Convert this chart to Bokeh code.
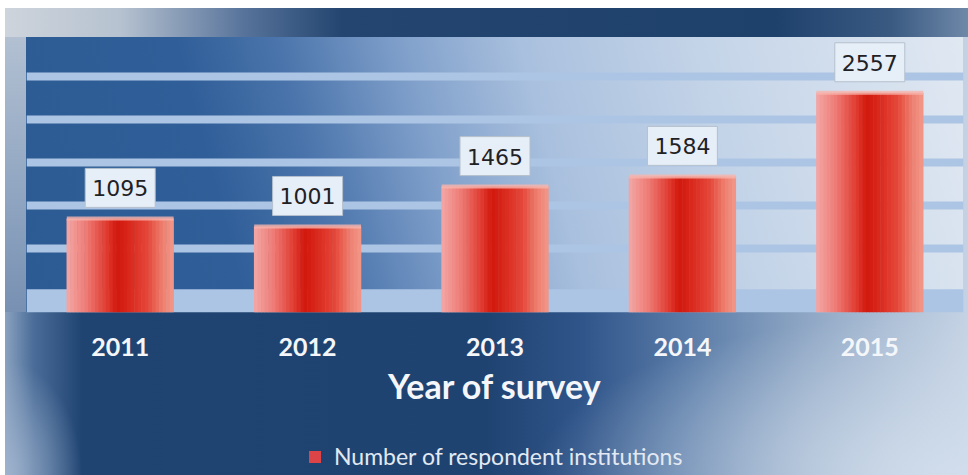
import numpy as np
from bokeh.plotting import figure
from bokeh.layouts import column
from bokeh.models import (Range1d, FactorRange, ColumnDataSource, Grid, FixedTicker,
                          BoxAnnotation, Legend, LegendItem)
from bokeh.transform import dodge
from bokeh.core.properties import value
from bokeh.embed import file_html
from bokeh.resources import INLINE

# ---------------- data ----------------
years = ["2011", "2012", "2013", "2014", "2015"]
counts = [1095, 1001, 1465, 1584, 2557]
value_labels = [str(c) for c in counts]
series_name = "Number of respondent institutions"
x_title = "Year of survey"
grid_values = [750, 1250, 1750, 2250, 2750]
floor_top = 270
y_max = 3200

# ---------------- main figure ----------------
W = 968
p = figure(width=W, height=437,
           x_range=FactorRange(factors=years, range_padding=0),
           y_range=Range1d(0, y_max),
           output_backend="svg", toolbar_location=None, y_axis_location=None,
           min_border_left=26, min_border_right=5, min_border_top=37, min_border_bottom=125)
p.border_fill_color = None
p.background_fill_color = None
p.outline_line_color = None
p.grid.visible = False

stripe_color = "#adc5e4"
p.add_layout(BoxAnnotation(bottom=0, top=floor_top, fill_color=stripe_color, fill_alpha=1,
                           line_color=None, level="underlay"))
p.add_layout(Grid(dimension=1, ticker=FixedTicker(ticks=grid_values),
                  grid_line_color=stripe_color, grid_line_width=8))

# bars (cylinder shading via strips)
source = ColumnDataSource(dict(year=years, count=counts, label=value_labels))
bar_w = 0.57
stops = [(0.0, (244, 168, 166)), (0.18, (238, 124, 118)), (0.38, (224, 58, 46)),
         (0.47, (210, 24, 14)), (0.56, (216, 36, 24)), (0.76, (228, 72, 58)),
         (0.9, (238, 128, 112)), (1.0, (242, 152, 138))]


def shade(t):
    for (t0, c0), (t1, c1) in zip(stops[:-1], stops[1:]):
        if t0 <= t <= t1:
            f = (t - t0) / (t1 - t0)
            c = [round(a + (b - a) * f) for a, b in zip(c0, c1)]
            return "#%02x%02x%02x" % tuple(c)
    return "#%02x%02x%02x" % stops[-1][1]


N = 30
for j in range(N):
    t = (j + 0.5) / N
    p.vbar(x=dodge("year", (t - 0.5) * bar_w, range=p.x_range), top="count",
           width=bar_w / N * 1.15, fill_color=shade(t), line_color=None, source=source)

p.rect(x="year", y="count", width=bar_w, height=4, height_units="screen",
       fill_color="#f7b4ac", fill_alpha=0.8, line_color=None, source=source)

# value labels in boxes
lbl = p.text(x="year", y="count", text="label", source=source,
             text_align="center", text_baseline="bottom", y_offset=-11,
             text_font=value("DejaVu Sans"), text_font_size="22px", text_color="#1f2124",
             background_fill_color="#e6eef8", border_line_color="#b4c0cc",
             border_line_width=1, padding=7)
try:
    lbl.glyph.padding = dict(left=7, right=7, top=12, bottom=11)
except Exception:
    lbl.glyph.padding = 9

# axis
ax = p.xaxis[0]
ax.axis_label = x_title
ax.axis_label_text_font = "Lato"
ax.axis_label_text_font_size = "34px"
ax.axis_label_text_font_style = "bold"
ax.axis_label_text_color = "#f4f6fa"
ax.major_label_text_font = "Lato"
ax.major_label_text_font_size = "25px"
ax.major_label_text_font_style = "bold"
ax.major_label_text_color = "#f4f6fa"
ax.axis_line_color = None
ax.major_tick_line_color = None
ax.minor_tick_line_color = None
ax.major_tick_out = 0
ax.major_tick_in = 0
ax.major_label_standoff = 25
ax.axis_label_standoff = 6

# ---------------- legend strip ----------------
pl = figure(width=W, height=38, x_range=Range1d(0, 1), y_range=Range1d(0, 1),
            output_backend="svg", toolbar_location=None,
            x_axis_location=None, y_axis_location=None,
            min_border=0, min_border_left=0, min_border_right=0,
            min_border_top=0, min_border_bottom=0)
pl.border_fill_color = None
pl.background_fill_color = None
pl.outline_line_color = None
pl.grid.visible = False
# zero-size proxy renderer that only supplies the legend swatch
proxy = pl.vbar(x=[0.5], top=[0], bottom=[0], width=0,
                fill_color="#dd4448", line_color=None)
legend = Legend(items=[LegendItem(label=series_name, renderers=[proxy])],
                location=(281, 5), orientation="horizontal",
                label_text_font="Lato", label_text_font_size="23px",
                label_text_color="#e2e9f2", background_fill_alpha=0,
                border_line_color=None, glyph_width=15, glyph_height=15,
                label_standoff=12, padding=0, margin=0)
pl.add_layout(legend)

# ---------------- background (decoration, CSS layers) ----------------
layers = [
    ("linear-gradient(75deg, #2c5a92 0%, #305e98 22%, #4a74ab 32%, #7f9fca 44%, #a9c0de 56%, #c4d4e8 74%, #e0e8f2 100%)",
     "26px 37px", "937px 275px"),
    ("linear-gradient(to right, #ced4dc 0%, #b6c2d0 12%, #56729a 25%, #23456f 35%, #1e416c 80%, #3a5a82 92%, #6e88a8 100%)",
     "5px 8px", "963px 29px"),
    ("linear-gradient(to bottom, #b2c0d2 0%, #8ea4c0 60%, #7890b2 100%)",
     "5px 37px", "21px 275px"),
    ("radial-gradient(ellipse 45% 100% at 100% 100%, rgba(210,222,236,0.95) 0%, rgba(210,222,236,0) 100%)",
     "5px 312px", "963px 163px"),
    ("radial-gradient(ellipse 8% 70% at 0% 100%, rgba(160,180,206,0.9) 0%, rgba(160,180,206,0) 100%)",
     "5px 312px", "963px 163px"),
    ("linear-gradient(to right, #8aa2c0 0%, #4a6c98 3%, #204472 8%, #1f4371 50%, #30558a 60%, #5a7ca8 71%, #8ea6c4 83%, #b0c2d8 93%, #c4d2e4 100%)",
     "5px 8px", "963px 467px"),
]
layout = column(p, pl, spacing=0)
layout.styles = {
    "background-image": ", ".join(l[0] for l in layers),
    "background-position": ", ".join(l[1] for l in layers),
    "background-size": ", ".join(l[2] for l in layers),
    "background-repeat": "no-repeat",
}

open("out.html", "w").write(file_html(layout, INLINE, title="Year of survey"))
